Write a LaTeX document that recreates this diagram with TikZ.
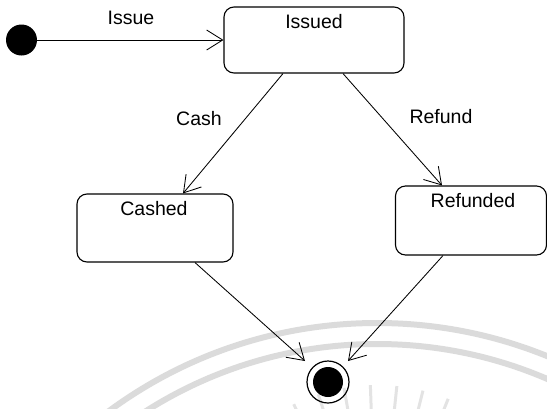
\documentclass[tikz,border=0pt]{standalone}
\usepackage{fontspec}
\setmainfont{Liberation Sans}
\usetikzlibrary{arrows.meta,calc}
\begin{document}
\begin{tikzpicture}[x=1pt,y=-1pt,
  statebox/.style={draw, line width=1.1pt, rounded corners=10pt, inner sep=0pt},
  title/.style={anchor=base, inner sep=0pt, font=\fontsize{19.5}{22}\selectfont},
  trans/.style={draw, line width=0.85pt, -{Straight Barb[length=16pt,width=20pt,line width=0.85pt]}},
  seal/.style={draw=black!14, line width=6pt}]
\useasboundingbox (0,0) rectangle (547,408);

% faint seal in the background
\begin{scope}
  \clip (0,0) rectangle (547,408);
  \draw[seal] (377,775) circle[radius=452];
  \draw[seal] (377,775) circle[radius=431];
  \foreach \a in {-124,-116,...,-56}
    \draw[draw=black!11, line width=3pt] ($(377,575)+(\a:150)$) -- ($(377,575)+(\a:190)$);
\end{scope}

% pseudostates
\node (init) [circle, fill=black, minimum size=31pt, inner sep=0pt] at (21.5,40) {};
\node (final) [circle, draw, line width=1.2pt, minimum size=42pt, inner sep=0pt] at (328,382) {};
\node (finaldot) [circle, fill=black, minimum size=30pt, inner sep=0pt] at (final) {};

% states
\node (issued) [statebox, minimum width=180pt, minimum height=66pt] at (314,40) {};
\node (cashed) [statebox, minimum width=156pt, minimum height=68pt] at (155,228) {};
\node (refunded) [statebox, minimum width=151pt, minimum height=69pt] at (471,220.5) {};

\node (issuedtxt) [title] at (314,28) {Issued};
\node (cashedtxt) [title] at (154,215) {Cashed};
\node (refundedtxt) [title] at (473,207) {Refunded};

% transitions
\draw[trans] (init) -- (issued);
\draw[trans] ([xshift=-31pt]issued.south) -- ([xshift=28pt]cashed.north);
\draw[trans] ([xshift=29pt]issued.south) -- ([xshift=-29pt]refunded.north);
\draw[trans] ([xshift=40pt]cashed.south) -- ($(final)+(-23,-21)$);
\draw[trans] ([xshift=-28pt]refunded.south) -- ($(final)+(20,-21)$);

% transition labels
\node (issuelbl) [title] at (131,24) {Issue};
\node (cashlbl) [title] at (199,125) {Cash};
\node (refundlbl) [title] at (441,123) {Refund};
\end{tikzpicture}
\end{document}
